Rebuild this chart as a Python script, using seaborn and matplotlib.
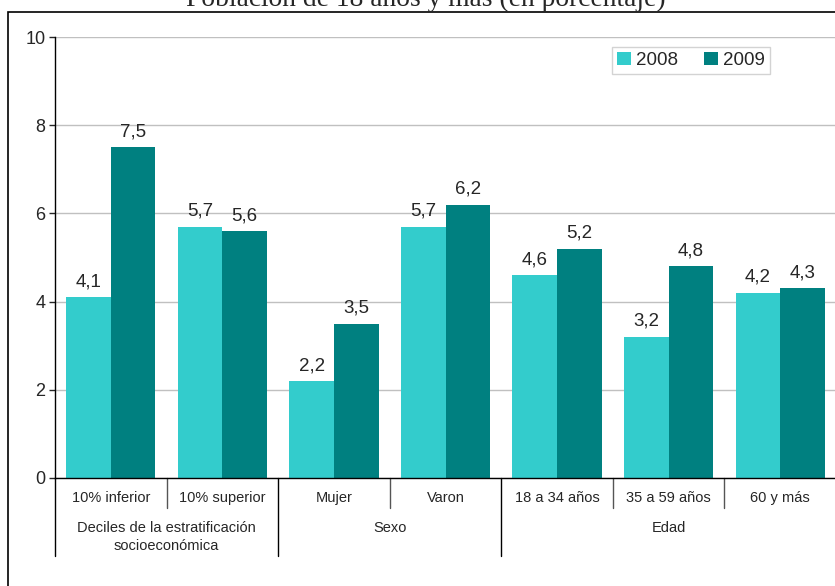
import matplotlib.pyplot as plt
import numpy as np
import pandas as pd
import seaborn as sns
from matplotlib.patches import Rectangle

# Data
categories = ['10% inferior', '10% superior', 'Mujer', 'Varon',
              '18 a 34 años', '35 a 59 años', '60 y más']
vals_2008 = [4.1, 5.7, 2.2, 5.7, 4.6, 3.2, 4.2]
vals_2009 = [7.5, 5.6, 3.5, 6.2, 5.2, 4.8, 4.3]
years = ['2008', '2009']
groups = ['Deciles de la estratificación\nsocioeconómica', 'Sexo', 'Edad']
group_spans = [(0, 1), (2, 3), (4, 6)]
title = 'Población de 18 años y más (en porcentaje)'

df = pd.DataFrame({
    'cat': categories * 2,
    'val': vals_2008 + vals_2009,
    'year': [years[0]] * len(categories) + [years[1]] * len(categories),
})

sns.set_style('white')
plt.rcParams['font.family'] = ['Liberation Sans', 'DejaVu Sans']

fig = plt.figure(figsize=(8.35, 5.86), dpi=100)
ax = fig.add_axes([55 / 835, 108 / 586, 781 / 835, 441 / 586])

sns.barplot(data=df, x='cat', y='val', hue='year', order=categories,
            palette=['#33CCCC', '#008080'], width=0.8, saturation=1,
            linewidth=0, ax=ax, zorder=2)

for cont in ax.containers:
    ax.bar_label(cont, labels=[f'{v.get_height():.1f}'.replace('.', ',') for v in cont],
                 padding=5, fontsize=13.5)

ax.set_ylim(0, 10)
ax.set_xlim(-0.5, 6.5)
ax.set_yticks(np.arange(0, 11, 2))
ax.yaxis.grid(True, color='#C0C0C0', lw=1, zorder=0)
ax.set_axisbelow(True)
for s in ['top', 'right']:
    ax.spines[s].set_visible(False)
for s in ['left', 'bottom']:
    ax.spines[s].set_color('black')
    ax.spines[s].set_linewidth(1)
ax.tick_params(axis='y', left=True, length=4, width=1, labelsize=13, pad=3)
ax.tick_params(axis='x', bottom=False, labelbottom=False)
ax.set_xlabel('')
ax.set_ylabel('')

# category labels and separators under the axis
trans = ax.get_xaxis_transform()
for i, c in enumerate(categories):
    ax.text(i, -0.045, c, transform=trans, ha='center', va='center', fontsize=10.5)
for b in np.arange(-0.5, 7, 1):
    long_line = b in (-0.5, 1.5, 3.5, 6.5)
    y_end = -0.177 if long_line else -0.068
    col = 'black' if long_line else '#555555'
    ax.plot([b, b], [0, y_end], transform=trans, color=col, lw=1, clip_on=False)
for g, (a, b) in zip(groups, group_spans):
    ax.text((a + b) / 2, -0.097, g, transform=trans, ha='center', va='top',
            fontsize=10.5, linespacing=1.35)

leg = ax.legend(loc='upper left', bbox_to_anchor=(557 / 781, 1 - 10 / 441),
                ncol=2, frameon=True, fontsize=13.5, handlelength=0.75,
                handleheight=0.75, columnspacing=1.35, handletextpad=0.3,
                borderpad=0.25, borderaxespad=0, fancybox=False, title=None)
leg.get_frame().set_edgecolor('#C8C8C8')
leg.get_frame().set_linewidth(1)

# outer frame of the original chart area
fig.patches.append(Rectangle((8 / 835, -0.2), 1.2, 1.2 - 12 / 586, transform=fig.transFigure,
                             fill=False, edgecolor='black', lw=1.2))

fig.text(426 / 835, 1 - 6 / 586, title, ha='center', va='baseline',
         fontsize=19.8, family='Liberation Serif')

fig.savefig('out.png', dpi=100)
